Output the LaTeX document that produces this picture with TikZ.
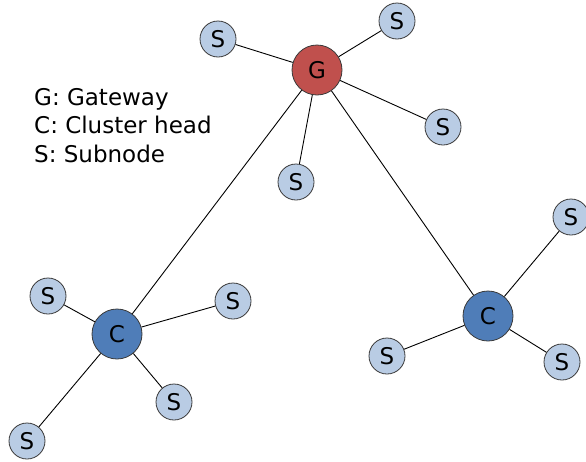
\documentclass[tikz,border=0pt]{standalone}
\usepackage{fontspec}
\setmainfont{DejaVu Sans}
\definecolor{gwred}{HTML}{C0504D}
\definecolor{chblue}{HTML}{4F7DB8}
\definecolor{sublue}{HTML}{B9CCE4}
\definecolor{rim}{HTML}{3A3A3A}
\begin{document}
\begin{tikzpicture}[x=1pt,y=-1pt,
  subn/.style={circle,draw=rim,line width=0.8pt,fill=sublue,minimum size=36pt,inner sep=0pt,font=\fontsize{23}{23}\selectfont},
  headn/.style={circle,draw=rim,line width=0.8pt,minimum size=50pt,inner sep=0pt,font=\fontsize{23}{23}\selectfont},
  link/.style={draw=black,line width=0.9pt},
  legend/.style={anchor=north west,inner sep=0pt,align=left,font=\fontsize{23}{28.5}\selectfont}]
\useasboundingbox (0,0) rectangle (586,461);
% nodes
\node[headn,fill=gwred] (g) at (317,70) {G};
\node[headn,fill=chblue] (c1) at (117,334) {C};
\node[headn,fill=chblue] (c2) at (488,316) {C};
\node[subn] (g1) at (218,39) {S};
\node[subn] (g2) at (397,21) {S};
\node[subn] (g3) at (443,127) {S};
\node[subn] (g4) at (296,182) {S};
\node[subn] (a1) at (48,296) {S};
\node[subn] (a2) at (233,301) {S};
\node[subn] (a3) at (174,402) {S};
\node[subn] (a4) at (27,441) {S};
\node[subn] (b1) at (571,217) {S};
\node[subn] (b2) at (387,356) {S};
\node[subn] (b3) at (562,362) {S};
% links
\draw[link] (g) -- (g1); \draw[link] (g) -- (g2); \draw[link] (g) -- (g3); \draw[link] (g) -- (g4);
\draw[link] (g) -- (c1); \draw[link] (g) -- (c2);
\draw[link] (c1) -- (a1); \draw[link] (c1) -- (a2); \draw[link] (c1) -- (a3); \draw[link] (c1) -- (a4);
\draw[link] (c2) -- (b1); \draw[link] (c2) -- (b2); \draw[link] (c2) -- (b3);
% legend
\node[legend] (leg) at (34,88) {G: Gateway\\C: Cluster head\\S: Subnode};
\end{tikzpicture}
\end{document}
